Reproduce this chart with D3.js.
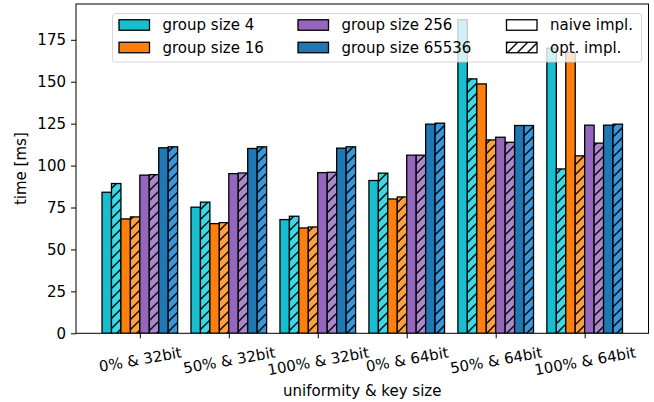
<!DOCTYPE html>
<html><head><meta charset="utf-8">
<script src="https://cdn.jsdelivr.net/npm/d3@7"></script>
<style>body{margin:0;background:#fff}svg{display:block;font-family:"DejaVu Sans",sans-serif}</style>
</head><body><svg id="c" width="654" height="402"></svg>
<script>
const categories = ["0% & 32bit","50% & 32bit","100% & 32bit","0% & 64bit","50% & 64bit","100% & 64bit"];
const groupLabels = ["group size 4","group size 16","group size 256","group size 65536"];
const implLabels = ["naive impl.","opt. impl."];
const naiveColors = ["#17becf","#ff7f0e","#9467bd","#1f77b4"];
const optColors = ["#3dd8e6","#ffa040","#a987cb","#3a96da"];
const gs4Naive = [84.1, 75.2, 67.8, 91.1, 187.0, 170.0];
const gs4Opt = [89.3, 78.2, 69.8, 95.5, 151.7, 98.0];
const gs16Naive = [68.2, 65.4, 62.8, 80.1, 148.7, 167.4];
const gs16Opt = [69.4, 66.0, 63.4, 81.3, 115.3, 105.8];
const gs256Naive = [94.3, 95.2, 95.8, 106.2, 116.9, 124.1];
const gs256Opt = [94.6, 95.6, 96.0, 106.2, 113.9, 113.4];
const gs65536Naive = [110.6, 110.2, 110.4, 124.7, 123.9, 124.1];
const gs65536Opt = [111.2, 111.2, 111.2, 125.3, 123.9, 124.7];
const yTicks = [0,25,50,75,100,125,150,175];

const series = [
  {g:0, opt:false, v:gs4Naive},{g:0, opt:true, v:gs4Opt},
  {g:1, opt:false, v:gs16Naive},{g:1, opt:true, v:gs16Opt},
  {g:2, opt:false, v:gs256Naive},{g:2, opt:true, v:gs256Opt},
  {g:3, opt:false, v:gs65536Naive},{g:3, opt:true, v:gs65536Opt}
];

const svg = d3.select("#c");
const L = 76, R = 648.5, T = 4, B = 333.3;
const groupW = 0.85, barW = groupW / series.length;
const allVals = series.flatMap(s => s.v);
const lo = -groupW/2, hi = categories.length - 1 + groupW/2;
const mx = (hi - lo) * 0.05;
const x = d3.scaleLinear().domain([lo - mx, hi + mx]).range([L, R]);
const y = d3.scaleLinear().domain([0, d3.max(allVals) * 1.05]).range([B, T]);

const defs = svg.append("defs");
const pat = defs.append("pattern").attr("id","hatch").attr("patternUnits","userSpaceOnUse")
  .attr("width",10).attr("height",10);
pat.append("path").attr("d","M-1,1 L1,-1 M0,10 L10,0 M9,11 L11,9").attr("stroke","#000").attr("stroke-width",1.4).attr("fill","none");
defs.append("clipPath").attr("id","plotclip").append("rect").attr("x",L).attr("y",T).attr("width",R-L).attr("height",B-T);

const gBars = svg.append("g").attr("clip-path","url(#plotclip)");
series.forEach((s, si) => {
  const off = -groupW/2 + si * barW;
  const sel = gBars.selectAll(null).data(s.v).enter();
  sel.append("rect")
    .attr("x", (d,i) => x(i + off)).attr("width", x(barW) - x(0))
    .attr("y", d => y(d)).attr("height", d => y(0) - y(d))
    .attr("fill", s.opt ? optColors[s.g] : naiveColors[s.g]);
  if (s.opt) {
    sel.append("rect")
      .attr("x", (d,i) => x(i + off)).attr("width", x(barW) - x(0))
      .attr("y", d => y(d)).attr("height", d => y(0) - y(d))
      .attr("fill", "url(#hatch)");
  }
  sel.append("rect")
    .attr("x", (d,i) => x(i + off)).attr("width", x(barW) - x(0))
    .attr("y", d => y(d)).attr("height", d => y(0) - y(d))
    .attr("fill", "none").attr("stroke","#000").attr("stroke-width",1.3);
});

// axes
const yAxis = d3.axisLeft(y).tickValues(yTicks).tickSize(5).tickPadding(5).tickFormat(d3.format("d"));
const gy = svg.append("g").attr("transform",`translate(${L},0)`).call(yAxis);
gy.select(".domain").remove();
gy.selectAll("text").attr("font-size",15).attr("fill","#000").attr("font-family","DejaVu Sans");
gy.selectAll("line").attr("stroke","#000");

const xAxis = d3.axisBottom(x).tickValues(d3.range(categories.length)).tickSize(5).tickFormat(i => categories[i]);
const gx = svg.append("g").attr("transform",`translate(0,${B})`).call(xAxis);
gx.select(".domain").remove();
gx.selectAll("line").attr("stroke","#000");
gx.selectAll("text").attr("font-size",15).attr("fill","#000").attr("font-family","DejaVu Sans")
  .attr("dy", null).attr("y", null)
  .attr("text-anchor","middle").attr("dominant-baseline","central")
  .each(function(){
    const w = this.getComputedTextLength();
    const a = 10 * Math.PI/180;
    const h = w*Math.sin(a) + 17.5*Math.cos(a);
    d3.select(this).attr("transform", `translate(0,${10.5 + h/2}) rotate(-10)`);
  });

svg.append("rect").attr("x",L).attr("y",T).attr("width",R-L).attr("height",B-T)
  .attr("fill","none").attr("stroke","#000").attr("stroke-width",1);

svg.append("text").attr("x",(L+R)/2).attr("y",396).attr("text-anchor","middle")
  .attr("font-size",15).text("uniformity & key size");
svg.append("text").attr("transform",`translate(26,${(T+B)/2}) rotate(-90)`).attr("text-anchor","middle")
  .attr("font-size",15).text("time [ms]");

// legend
const lg = svg.append("g");
lg.append("rect").attr("x",112.5).attr("y",13.5).attr("width",529).attr("height",48.5).attr("rx",3)
  .attr("fill","#fff").attr("fill-opacity",0.8).attr("stroke","#ccc").attr("stroke-opacity",0.8);
const colX = [119, 298, 506.5];
const rowY = [25, 47.5];
const items = groupLabels.map((t,i) => ({label:t, col: Math.floor(i/2), row: i%2, fill: naiveColors[i], hatch:false}))
  .concat(implLabels.map((t,i) => ({label:t, col:2, row:i, fill:"#fff", hatch: i===1})));
items.forEach(it => {
  const px = colX[it.col], py = rowY[it.row];
  lg.append("rect").attr("x",px).attr("y",py-5.25).attr("width",30.5).attr("height",10.5).attr("fill",it.fill);
  if (it.hatch) lg.append("rect").attr("x",px).attr("y",py-5.25).attr("width",30.5).attr("height",10.5).attr("fill","url(#hatch)");
  lg.append("rect").attr("x",px).attr("y",py-5.25).attr("width",30.5).attr("height",10.5).attr("fill","none").attr("stroke","#000").attr("stroke-width",1.3);
  lg.append("text").attr("x",px+43.5).attr("y",py).attr("dominant-baseline","central").attr("font-size",15).text(it.label);
});
</script></body></html>
